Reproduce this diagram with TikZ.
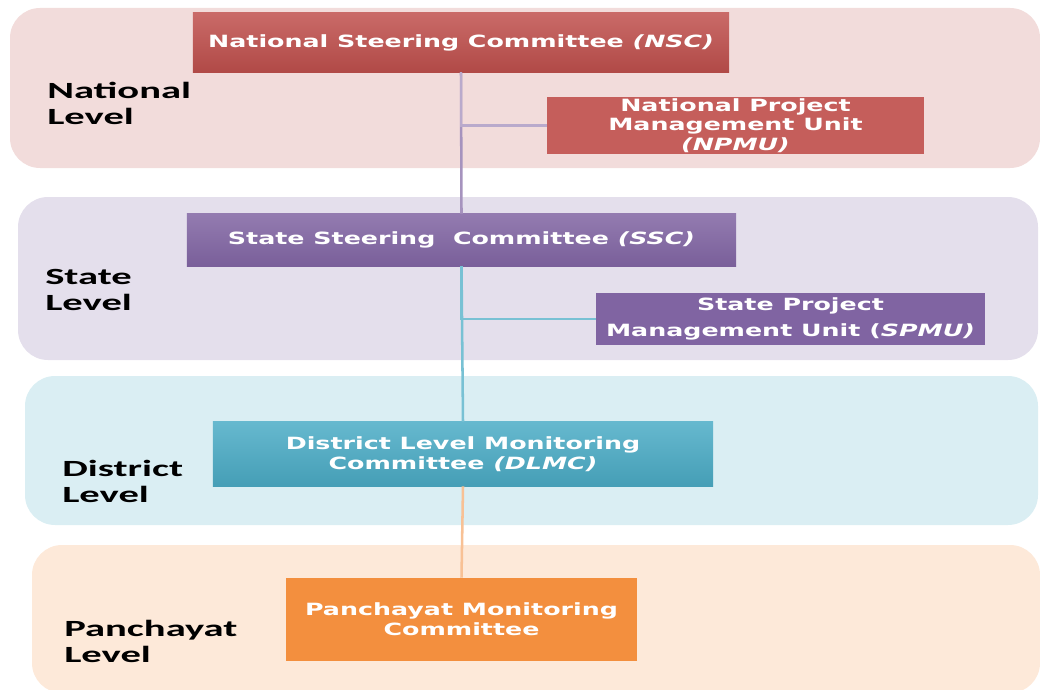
\documentclass[tikz,border=0pt]{standalone}
\usepackage{fontspec}
\newfontfamily\boxfont[FakeStretch=1.5]{DejaVu Sans}
\newfontfamily\lvlfont[FakeStretch=1.75]{Carlito}
\definecolor{natband}{HTML}{F2DCDB}
\definecolor{staband}{HTML}{E4DFEC}
\definecolor{disband}{HTML}{DAEEF3}
\definecolor{panband}{HTML}{FDE9D9}
\definecolor{natred}{HTML}{C0504D}
\definecolor{stapurple}{HTML}{8064A2}
\definecolor{disteal}{HTML}{4BACC6}
\definecolor{panorange}{HTML}{F38F3E}
\begin{document}
\begin{tikzpicture}[x=0.025cm,y=-0.025cm]\tikzset{unit/.style = {shape=rectangle, inner sep = 1pt, align=center, text=white, font=\boxfont\bfseries\fontsize{12}{14}\selectfont},
	level/.style = {anchor=west, inner sep = 0pt, align=left, font=\lvlfont\bfseries\fontsize{16.5}{18.5}\selectfont},
	link/.style = {line width=1.8pt}}

		\useasboundingbox (0,0) rectangle (1040,690);

		% level bands
		\fill[natband, rounded corners=0.75cm] (10,8) rectangle (1040,168);
		\fill[staband, rounded corners=0.75cm] (18,197) rectangle (1038,360);
		\fill[disband, rounded corners=0.75cm] (25,376) rectangle (1038,525);
		\fill[panband, rounded corners=0.75cm] (32,545) rectangle (1040,693);

		\node[level] (L_1) at (47,103) {National\\Level};
		\node[level] (L_2) at (45,290) {State\\Level};
		\node[level] (L_3) at (62,481) {District\\Level};
		\node[level] (L_4) at (64,641) {Panchayat\\Level};

		\node[unit, top color=natred!85!white, bottom color=natred!92!black, minimum width=13.4cm, minimum height=1.475cm] (NSC) at (461,42.5) {National Steering Committee \textit{(NSC)}};
		\node[unit, fill=natred!92!white, minimum width=9.425cm, minimum height=1.425cm] (NPMU) at (735.5,125.5) {National Project\\Management Unit\\\textit{(NPMU)}};
		\node[unit, top color=stapurple!85!white, bottom color=stapurple!95!black, minimum width=13.725cm, minimum height=1.3cm] (SSC) at (461.5,240) {State Steering\ \ Committee \textit{(SSC)}};
		\node[unit, fill=stapurple, minimum width=9.725cm, minimum height=1.3cm, font=\boxfont\bfseries\fontsize{12}{18.5}\selectfont] (SPMU) at (790.5,319) {State Project\\Management Unit (\textit{SPMU)}};
		\node[unit, top color=disteal!85!white, bottom color=disteal!92!black, minimum width=12.5cm, minimum height=1.6cm] (DLMC) at (463,454) {District Level Monitoring\\Committee \textit{(DLMC)}};
		\node[unit, fill=panorange, minimum width=8.775cm, minimum height=2.075cm] (PMC) at (461.5,619.5) {Panchayat Monitoring\\Committee};

		\draw[link, stapurple!70] (NSC.south) -- (SSC.north);
		\draw[link, stapurple!55] (NSC.south) |- (NPMU.west);
		\draw[link, disteal!75] (SSC.south) -- (DLMC.north);
		\draw[link, disteal!75] (SSC.south) |- (SPMU.west);
		\draw[link, panorange!55] (DLMC.south) -- (PMC.north);
	\end{tikzpicture}
\end{document}
